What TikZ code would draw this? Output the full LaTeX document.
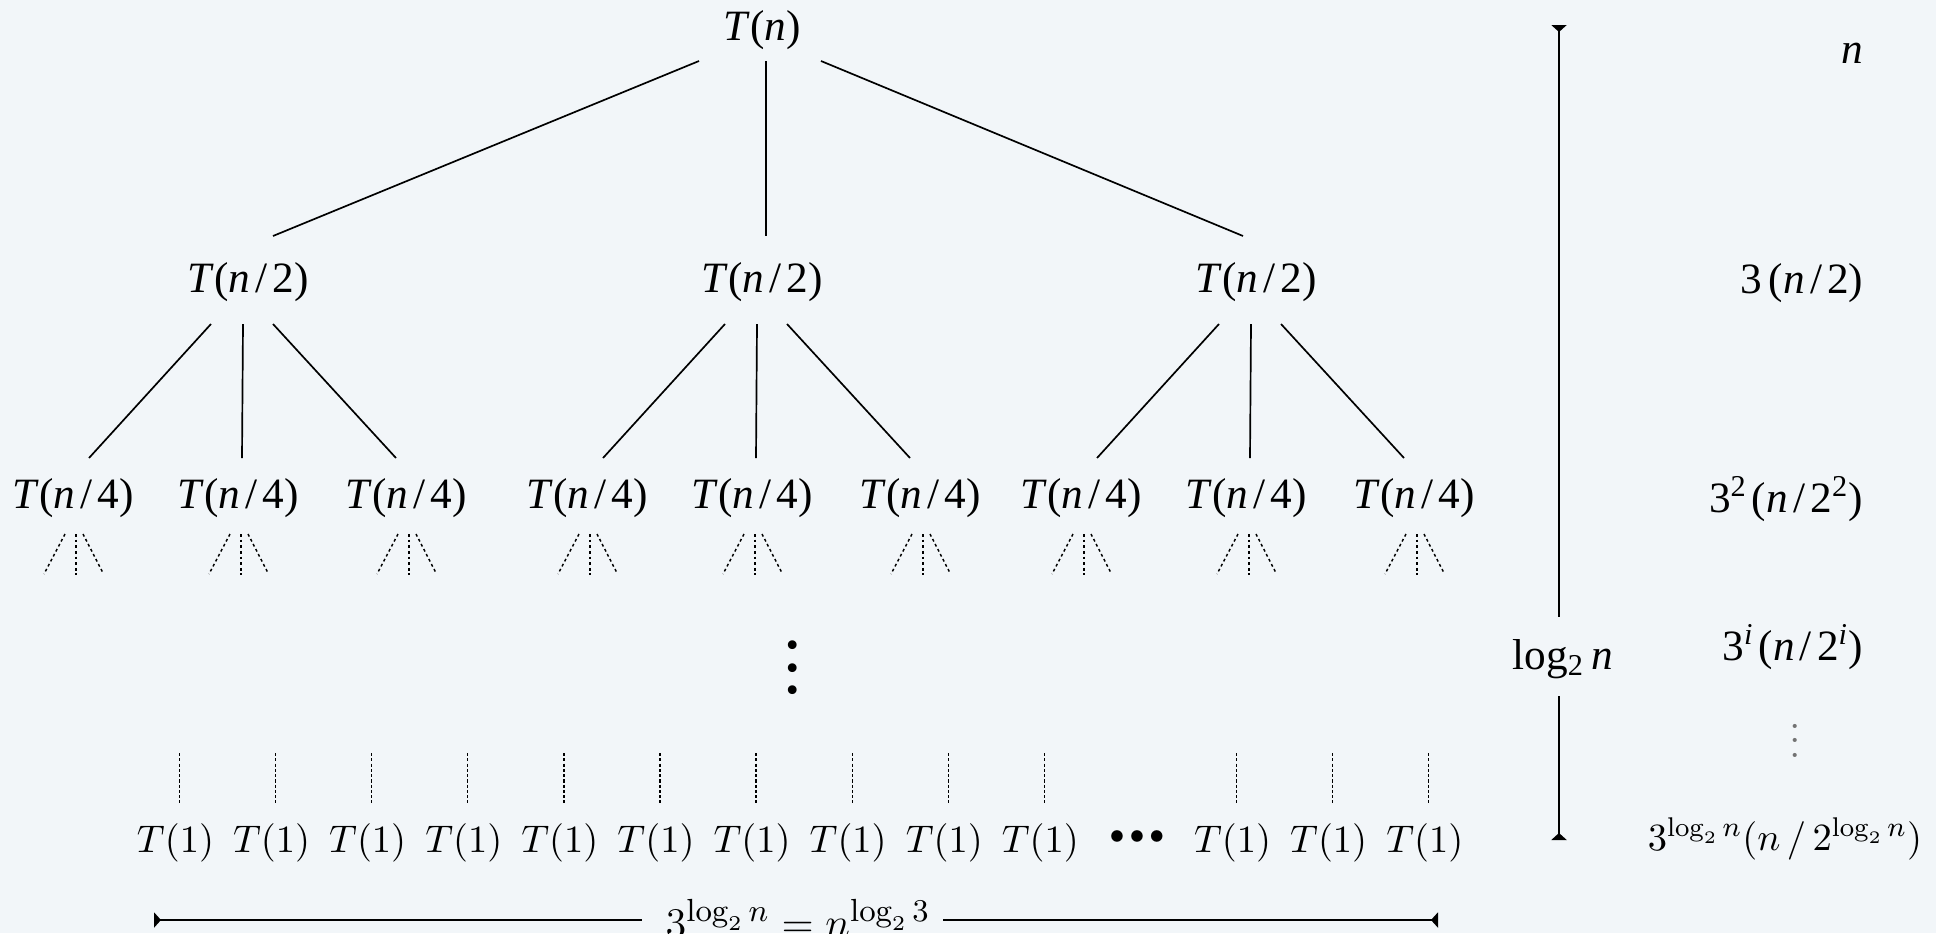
\documentclass[tikz,border=0pt]{standalone}
\usepackage{amsmath}
\usepackage{fontspec}
\newfontfamily\tms{Liberation Serif}
\usetikzlibrary{arrows.meta,calc}
\definecolor{paper}{RGB}{242,246,249}
\newcommand\Tof[1]{\textit{T}(\textit{n}\kern.12em/\kern.12em#1)}

\begin{document}
\begin{tikzpicture}[x=0.01cm,y=-0.01cm,
  lvl/.style={inner sep=0,anchor=base,font=\fontsize{12.3}{14}\selectfont\tms},
  leaf/.style={inner sep=0,anchor=base,font=\fontsize{11}{13}\selectfont},
  cost/.style={inner sep=0,anchor=base east,font=\fontsize{12.3}{14}\selectfont\tms},
  treeline/.style={line width=0.48pt},
  fan/.style={line width=0.42pt,dash pattern=on 0.8pt off 0.8pt},
  stub/.style={line width=0.35pt,dash pattern=on 0.9pt off 0.6pt},
  spanline/.style={line width=0.8pt},
  tipstart/.style={{Triangle[reversed,width=4.3pt,length=2pt]}-},
  tipend/.style={-{Triangle[reversed,width=4.3pt,length=2pt]}}]
  \clip (0,0) rectangle (1936,933);
  \fill[paper] (0,0) rectangle (1936,933);
  % root and first level
  \node[lvl] (r) at (762,40) {\textit{T}(\textit{n})};
  \foreach \k/\x in {1/248,2/762,3/1256}
    \node[lvl] (m\k) at (\x,292) {\Tof{2}};
  \foreach \k/\sx/\ex in {1/-63/25,2/4/4,3/59/-13}
    \draw[treeline] ($(r.base)+(\sx,21)$) -- ($(m\k.base)+(\ex,-56)$);
  % second level with the dotted fans below
  \foreach \k in {1,2,3}{
    \foreach \j/\dx/\sx/\ex in {1/-175/-37/16,2/-10/-5/4,3/158/25/-10}{
      \node[lvl] (c\k\j) at ($(m\k.base)+(\dx,216)$) {\Tof{4}};
      \draw[treeline] ($(m\k.base)+(\sx,32)$) -- ($(c\k\j.base)+(\ex,-50)$);
      \draw[fan] ($(c\k\j.base)+(-8,26)$) -- ($(c\k\j.base)+(-29,66)$);
      \draw[fan] ($(c\k\j.base)+(3,26)$) -- ($(c\k\j.base)+(3,67)$);
      \draw[fan] ($(c\k\j.base)+(10,26)$) -- ($(c\k\j.base)+(30,65)$);
    }
  }
  \node[inner sep=0,align=center,font=\fontsize{21}{6.4}\selectfont\tms] (vd)
    at (793,668) {.\\.\\.};
  % leaves
  \foreach \i in {0,...,9,11,12,13}{
    \node[leaf] (t\i) at ({175.5+96.1*\i},852) {$T(1)$};
    \draw[stub] ($(t\i.base)+(4,-99)$) -- ($(t\i.base)+(4,-49)$);
  }
  \node[inner sep=0,anchor=base,font=\fontsize{8}{10}\selectfont] (dots)
    at (1137,843) {${\bullet}\kern1.4pt{\bullet}\kern1.4pt{\bullet}$};
  % height of the tree
  \node[lvl,anchor=center] (lg) at (1563,659) {log\textsubscript{2}\,\textit{n}};
  \coordinate (lgtop) at (1559,25);
  \coordinate (lgbot) at (1559,840);
  \draw[spanline,tipstart] (lgtop) -- ($(lg.center)+(-4,-42)$);
  \draw[spanline,tipend] ($(lg.center)+(-4,37)$) -- (lgbot);
  % cost per level
  \node[cost] (s0) at (1864,63) {\textit{n}};
  \node[cost] (s1) at (1864,293) {3\kern.15em(\textit{n}\kern.12em/\kern.12em2)};
  \node[cost] (s2) at (1864,512)
    {3\textsuperscript{2}\kern.1em(\textit{n}\kern.12em/\kern.12em2\textsuperscript{2})};
  \node[cost] (si) at (1864,660)
    {3\textsuperscript{\textit{i}}\kern.1em(\textit{n}\kern.12em/\kern.12em2\textsuperscript{\textit{i}})};
  \node[inner sep=0,anchor=base,text=black!55,font=\fontsize{12}{14}\selectfont] (sd)
    at (1795,757) {$\vdots$};
  \node[leaf] (sl) at (1785,850) {$3^{\log_2 n}(n\,/\,2^{\log_2 n})$};
  % number of leaves
  \node[inner sep=0,anchor=base,font=\fontsize{13}{15}\selectfont] (tot)
    at (798,937) {$3^{\log_2 n}=n^{\log_2 3}$};
  \coordinate (ltip) at (154,920);
  \coordinate (rtip) at (1438,920);
  \draw[spanline,tipstart] (ltip) -- ($(tot.base)+(-156,-17)$);
  \draw[spanline,tipend] ($(tot.base)+(145,-17)$) -- (rtip);
\end{tikzpicture}
\end{document}
